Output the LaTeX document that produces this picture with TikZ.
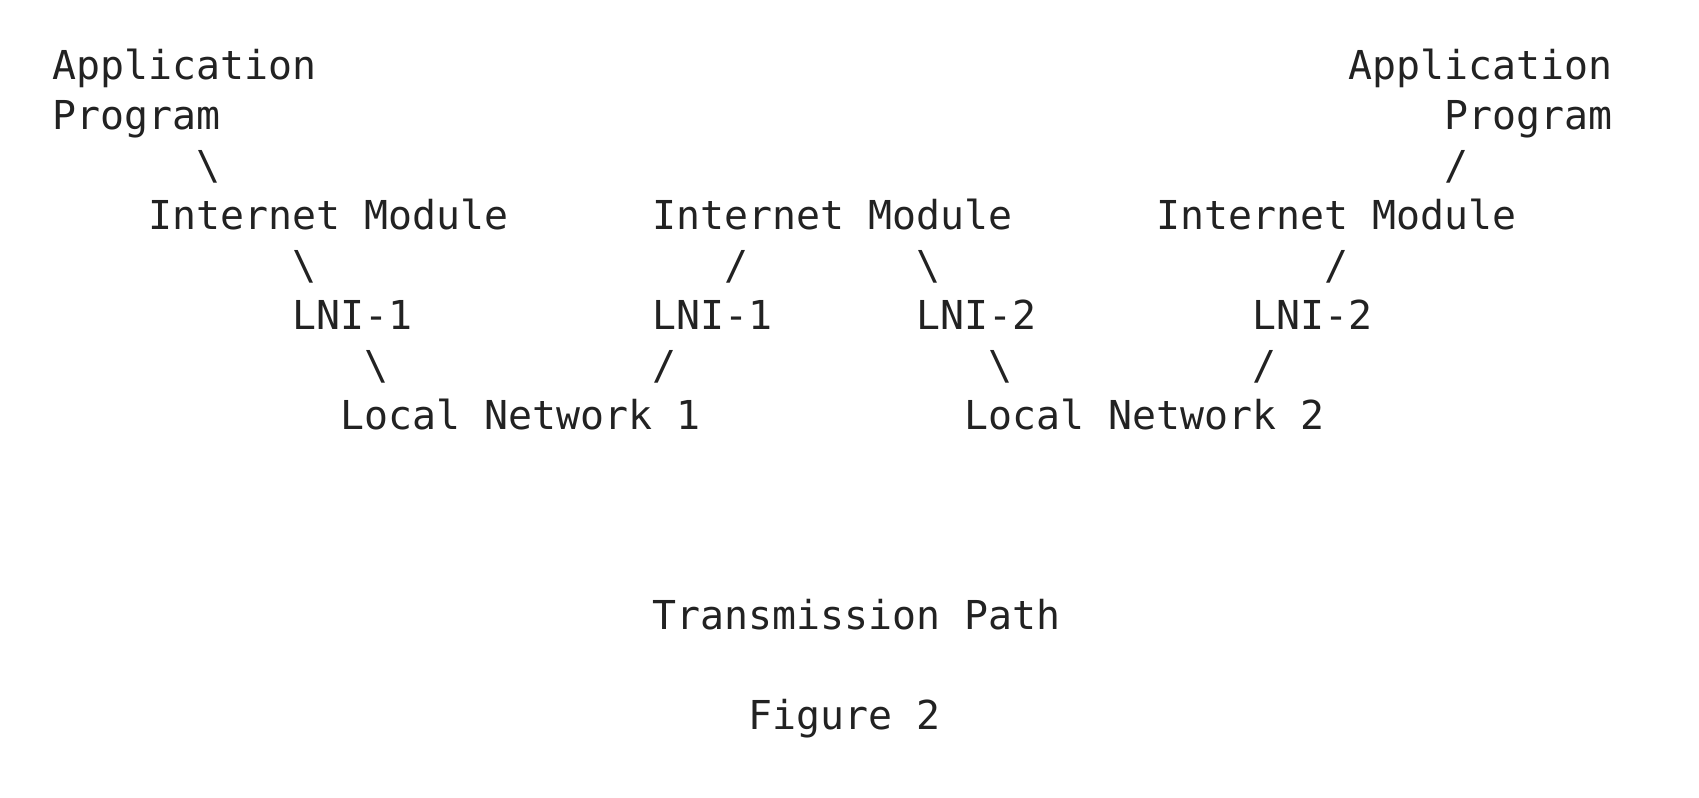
\documentclass[tikz,border=0pt]{standalone}
\usepackage{fontspec}
\newfontfamily\asciifont{DejaVu Sans Mono}
\definecolor{inkgray}{RGB}{34,34,34}

\begin{document}
\begin{tikzpicture}[x=12pt,y=25pt,
		txt/.style={anchor=base west,inner sep=0pt,text=inkgray,
			font={\asciifont\fontsize{19.93pt}{25pt}\selectfont}}]
		\useasboundingbox (-2.1875,1.586) rectangle (68.604,-14.354);
		% end hosts
		\node[txt] (appA) at (0,0) {Application};
		\node[txt] (progA) at (0,-1) {Program};
		\node[txt] (appB) at (54,0) {Application};
		\node[txt] (progB) at (58,-1) {Program};
		% internet modules
		\node[txt] (imA) at (4,-3) {Internet Module};
		\node[txt] (imG) at (25,-3) {Internet Module};
		\node[txt] (imB) at (46,-3) {Internet Module};
		% local network interfaces
		\node[txt] (lniA) at (10,-5) {LNI-1};
		\node[txt] (lniG1) at (25,-5) {LNI-1};
		\node[txt] (lniG2) at (36,-5) {LNI-2};
		\node[txt] (lniB) at (50,-5) {LNI-2};
		% networks
		\node[txt] (net1) at (12,-7) {Local Network 1};
		\node[txt] (net2) at (38,-7) {Local Network 2};
		% slashes
		\foreach \c/\r in {6/-2,10/-4,36/-4,13/-6,39/-6}
			\node[txt] (bs-\c) at (\c,\r) {\textbackslash};
		\foreach \c/\r in {58/-2,28/-4,53/-4,25/-6,50/-6}
			\node[txt] (fs-\c) at (\c,\r) {/};
		% caption
		\node[txt] (path) at (25,-11) {Transmission Path};
		\node[txt] (fig) at (29,-13) {Figure 2};
	\end{tikzpicture}
\end{document}
